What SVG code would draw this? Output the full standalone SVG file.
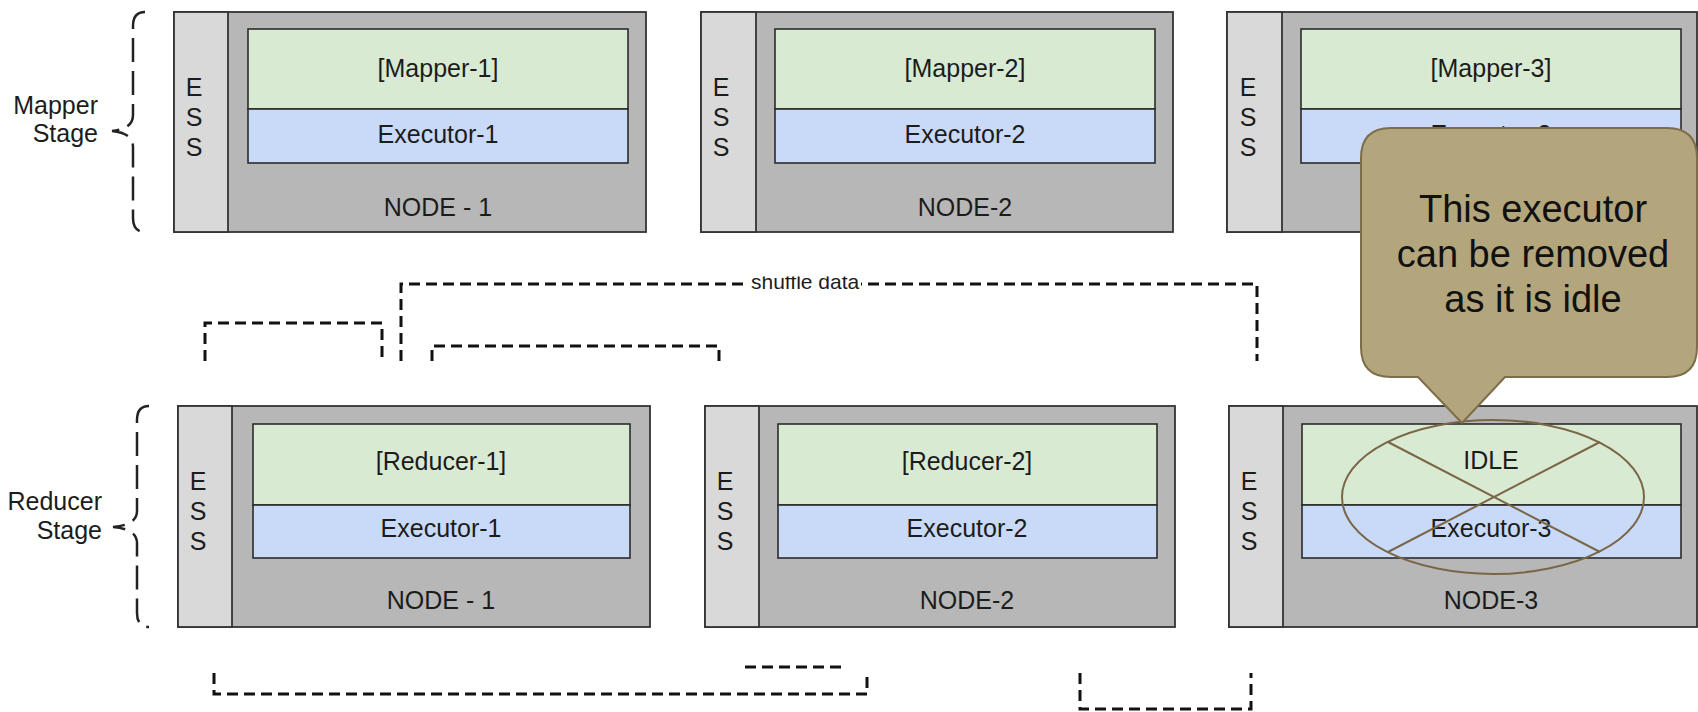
<svg xmlns="http://www.w3.org/2000/svg" width="1698" height="712" viewBox="0 0 1698 712">
<defs>
<style>
.outer{fill:#b7b7b7;stroke:#333;stroke-width:1.8}
.ess{fill:#d9d9d9;stroke:#333;stroke-width:1.8}
.task{fill:#d9ead3;stroke:#2b2b2b;stroke-width:1.6}
.exec{fill:#c9daf8;stroke:#2b2b2b;stroke-width:1.6}
text{font-family:"Liberation Sans",Arial,sans-serif;fill:#1c1c1c}
.lbl{font-size:25px;text-anchor:middle}
.side{font-size:25px;text-anchor:end}
.dash{fill:none;stroke:#111;stroke-width:3;stroke-dasharray:11 6}
.brace{fill:none;stroke:#222;stroke-width:2.5;stroke-dasharray:24 9}
.callout{fill:#b3a67d;stroke:#7d6d48;stroke-width:2}
.cross{fill:none;stroke:#7a6646;stroke-width:2}
.ctext{font-size:38px;text-anchor:middle;fill:#111}
</style>
<clipPath id="shufClip"><rect x="740" y="276.5" width="130" height="25"/></clipPath>
</defs>
<rect width="1698" height="712" fill="#fff"/>

<g id="mapper-stage-label">
<path class="brace" d="M145 12 Q133 12 133 26 V115 Q133 129 112 131 Q133 133 133 147 V218 Q133 232 145 232"/>
<text class="side" x="98" y="114">Mapper</text>
<text class="side" x="98" y="142">Stage</text>
</g>
<g id="reducer-stage-label">
<path class="brace" d="M149 406 Q137 406 137 420 V511 Q137 525 113 527 Q137 529 137 543 V613 Q137 627 149 627"/>
<text class="side" x="102" y="510">Reducer</text>
<text class="side" x="102" y="539">Stage</text>
</g>

<g id="map-node-1">
<rect class="outer" x="174" y="12" width="472" height="220"/>
<rect class="ess" x="174" y="12" width="54" height="220"/>
<text class="lbl" x="194" y="96">E</text><text class="lbl" x="194" y="126">S</text><text class="lbl" x="194" y="156">S</text>
<rect class="task" x="248" y="29" width="380" height="80"/>
<rect class="exec" x="248" y="109" width="380" height="54"/>
<text class="lbl" x="438" y="77">[Mapper-1]</text>
<text class="lbl" x="438" y="143">Executor-1</text>
<text class="lbl" x="438" y="216">NODE - 1</text>
</g>
<g id="map-node-2">
<rect class="outer" x="701" y="12" width="472" height="220"/>
<rect class="ess" x="701" y="12" width="55" height="220"/>
<text class="lbl" x="721" y="96">E</text><text class="lbl" x="721" y="126">S</text><text class="lbl" x="721" y="156">S</text>
<rect class="task" x="775" y="29" width="380" height="80"/>
<rect class="exec" x="775" y="109" width="380" height="54"/>
<text class="lbl" x="965" y="77">[Mapper-2]</text>
<text class="lbl" x="965" y="143">Executor-2</text>
<text class="lbl" x="965" y="216">NODE-2</text>
</g>
<g id="map-node-3">
<rect class="outer" x="1227" y="12" width="470" height="220"/>
<rect class="ess" x="1227" y="12" width="55" height="220"/>
<text class="lbl" x="1248" y="96">E</text><text class="lbl" x="1248" y="126">S</text><text class="lbl" x="1248" y="156">S</text>
<rect class="task" x="1301" y="29" width="380" height="80"/>
<rect class="exec" x="1301" y="109" width="380" height="54"/>
<text class="lbl" x="1491" y="77">[Mapper-3]</text>
<text class="lbl" x="1491" y="143">Executor-3</text>
<text class="lbl" x="1491" y="216">NODE-3</text>
</g>

<g id="reduce-node-1">
<rect class="outer" x="178" y="406" width="472" height="221"/>
<rect class="ess" x="178" y="406" width="54" height="221"/>
<text class="lbl" x="198" y="490">E</text><text class="lbl" x="198" y="520">S</text><text class="lbl" x="198" y="550">S</text>
<rect class="task" x="253" y="424" width="377" height="81"/>
<rect class="exec" x="253" y="505" width="377" height="53"/>
<text class="lbl" x="441" y="470">[Reducer-1]</text>
<text class="lbl" x="441" y="537">Executor-1</text>
<text class="lbl" x="441" y="609">NODE - 1</text>
</g>
<g id="reduce-node-2">
<rect class="outer" x="705" y="406" width="470" height="221"/>
<rect class="ess" x="705" y="406" width="54" height="221"/>
<text class="lbl" x="725" y="490">E</text><text class="lbl" x="725" y="520">S</text><text class="lbl" x="725" y="550">S</text>
<rect class="task" x="778" y="424" width="379" height="81"/>
<rect class="exec" x="778" y="505" width="379" height="53"/>
<text class="lbl" x="967" y="470">[Reducer-2]</text>
<text class="lbl" x="967" y="537">Executor-2</text>
<text class="lbl" x="967" y="609">NODE-2</text>
</g>
<g id="reduce-node-3">
<rect class="outer" x="1229" y="406" width="468" height="221"/>
<rect class="ess" x="1229" y="406" width="54" height="221"/>
<text class="lbl" x="1249" y="490">E</text><text class="lbl" x="1249" y="520">S</text><text class="lbl" x="1249" y="550">S</text>
<rect class="task" x="1302" y="424" width="379" height="81"/>
<rect class="exec" x="1302" y="505" width="379" height="53"/>
<text class="lbl" x="1491" y="469">IDLE</text>
<text class="lbl" x="1491" y="537">Executor-3</text>
<text class="lbl" x="1491" y="609">NODE-3</text>
</g>

<g id="connectors">
<path class="dash" d="M205 361 V323 H382 V361"/>
<path class="dash" d="M401 361 V284 H1257 V361"/>
<path class="dash" d="M432 361 V346 H719 V361"/>
<rect x="746" y="277" width="115" height="14" fill="#fff"/>
<text x="751" y="289" font-size="21" clip-path="url(#shufClip)">shuffle data</text>
<path class="dash" d="M214 673 V694 H867 V673"/>
<path class="dash" d="M745 667 H845"/>
<path class="dash" d="M1080 673 V709 H1251 V673"/>
</g>

<g id="idle-mark">
<ellipse class="cross" cx="1493" cy="497" rx="151" ry="77"/>
<line class="cross" x1="1388" y1="442" x2="1600" y2="552"/>
<line class="cross" x1="1600" y1="442" x2="1388" y2="552"/>
</g>

<g id="callout">
<path class="callout" d="M1391 128 H1667 Q1697 128 1697 158 V347 Q1697 377 1667 377 H1505 L1462 423 L1418 377 H1391 Q1361 377 1361 347 V158 Q1361 128 1391 128 Z"/>
<text class="ctext" x="1533" y="222">This executor</text>
<text class="ctext" x="1533" y="267">can be removed</text>
<text class="ctext" x="1533" y="312">as it is idle</text>
</g>
</svg>
